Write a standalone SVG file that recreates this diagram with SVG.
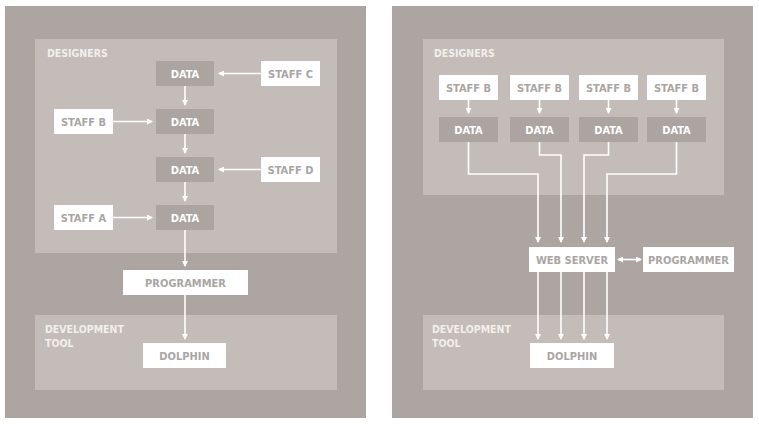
<svg xmlns="http://www.w3.org/2000/svg" width="759" height="424" viewBox="0 0 759 424">
<defs>
<style>
.panel{fill:#aca5a2}
.zone{fill:#c3bcb8}
.data{fill:#aba4a1}
.wbox{fill:#ffffff}
text{font-family:"DejaVu Sans Condensed","DejaVu Sans","Liberation Sans",sans-serif;font-stretch:condensed;font-weight:bold;font-size:11px}
.dt{fill:#ffffff;text-anchor:middle}
.wt{fill:#aaa5a3;text-anchor:middle}
.lbl{fill:#f2efed;font-size:10.5px}
.ln{fill:none;stroke:#ffffff;stroke-width:1.6}
</style>
<marker id="ah" viewBox="0 0 6 6" refX="5" refY="3" markerWidth="6" markerHeight="6" markerUnits="userSpaceOnUse" orient="auto-start-reverse">
<path d="M0,0 L6,3 L0,6 Z" fill="#ffffff"/>
</marker>
</defs>
<rect width="759" height="424" fill="#ffffff"/>
<g id="left-panel">
<rect class="panel" x="5" y="6" width="361" height="412"/>
<g id="l-designers"><rect class="zone" x="35" y="39" width="302" height="214"/><text class="lbl" x="47" y="57">DESIGNERS</text></g>
<g id="l-devtool"><rect class="zone" x="35" y="315" width="302" height="75"/><text class="lbl" x="45" y="333">DEVELOPMENT</text><text class="lbl" x="45" y="347">TOOL</text></g>
</g>
<g id="right-panel">
<rect class="panel" x="392" y="6" width="361" height="412"/>
<g id="r-designers"><rect class="zone" x="423" y="39" width="301" height="156"/><text class="lbl" x="434" y="57">DESIGNERS</text></g>
<g id="r-devtool"><rect class="zone" x="423" y="315" width="301" height="75"/><text class="lbl" x="432" y="333">DEVELOPMENT</text><text class="lbl" x="432" y="347">TOOL</text></g>
</g>
<g id="connectors">
<line class="ln" x1="261" y1="73.5" x2="219" y2="73.5" marker-end="url(#ah)"/>
<line class="ln" x1="113" y1="121.5" x2="152" y2="121.5" marker-end="url(#ah)"/>
<line class="ln" x1="261" y1="169.5" x2="219" y2="169.5" marker-end="url(#ah)"/>
<line class="ln" x1="113" y1="217.5" x2="152" y2="217.5" marker-end="url(#ah)"/>
<line class="ln" x1="185" y1="86" x2="185" y2="105" marker-end="url(#ah)"/>
<line class="ln" x1="185" y1="134" x2="185" y2="153" marker-end="url(#ah)"/>
<line class="ln" x1="185" y1="182" x2="185" y2="201" marker-end="url(#ah)"/>
<line class="ln" x1="185" y1="230" x2="185" y2="266" marker-end="url(#ah)"/>
<line class="ln" x1="185" y1="295" x2="185" y2="339" marker-end="url(#ah)"/>
<line class="ln" x1="468.5" y1="100" x2="468.5" y2="113" marker-end="url(#ah)"/>
<line class="ln" x1="539.5" y1="100" x2="539.5" y2="113" marker-end="url(#ah)"/>
<line class="ln" x1="608.5" y1="100" x2="608.5" y2="113" marker-end="url(#ah)"/>
<line class="ln" x1="676.5" y1="100" x2="676.5" y2="113" marker-end="url(#ah)"/>
<polyline class="ln" points="468.5,142 468.5,174 538,174 538,242" marker-end="url(#ah)"/>
<polyline class="ln" points="539.5,142 539.5,155 561,155 561,242" marker-end="url(#ah)"/>
<polyline class="ln" points="608.5,142 608.5,155 584,155 584,242" marker-end="url(#ah)"/>
<polyline class="ln" points="676.5,142 676.5,174 607,174 607,242" marker-end="url(#ah)"/>
<line class="ln" x1="538" y1="272" x2="538" y2="339" marker-end="url(#ah)"/>
<line class="ln" x1="561" y1="272" x2="561" y2="339" marker-end="url(#ah)"/>
<line class="ln" x1="584" y1="272" x2="584" y2="339" marker-end="url(#ah)"/>
<line class="ln" x1="607" y1="272" x2="607" y2="339" marker-end="url(#ah)"/>
<line class="ln" x1="618" y1="259.5" x2="641" y2="259.5" marker-start="url(#ah)" marker-end="url(#ah)"/>
</g>
<g id="l-data1"><rect class="data" x="156" y="61" width="58" height="25"/><text class="dt" x="185" y="77.5">DATA</text></g>
<g id="l-data2"><rect class="data" x="156" y="109" width="58" height="25"/><text class="dt" x="185" y="125.5">DATA</text></g>
<g id="l-data3"><rect class="data" x="156" y="157" width="58" height="25"/><text class="dt" x="185" y="173.5">DATA</text></g>
<g id="l-data4"><rect class="data" x="156" y="205" width="58" height="25"/><text class="dt" x="185" y="221.5">DATA</text></g>
<g id="l-staffc"><rect class="wbox" x="261" y="61" width="59" height="25"/><text class="wt" x="290.5" y="77.5">STAFF C</text></g>
<g id="l-staffb"><rect class="wbox" x="54" y="109" width="59" height="25"/><text class="wt" x="83.5" y="125.5">STAFF B</text></g>
<g id="l-staffd"><rect class="wbox" x="261" y="157" width="59" height="25"/><text class="wt" x="290.5" y="173.5">STAFF D</text></g>
<g id="l-staffa"><rect class="wbox" x="54" y="205" width="59" height="25"/><text class="wt" x="83.5" y="221.5">STAFF A</text></g>
<g id="l-programmer"><rect class="wbox" x="123" y="270" width="125" height="25"/><text class="wt" x="185.5" y="286.5">PROGRAMMER</text></g>
<g id="l-dolphin"><rect class="wbox" x="143" y="343" width="83" height="25"/><text class="wt" x="184.5" y="359.5">DOLPHIN</text></g>
<g id="r-staff1"><rect class="wbox" x="439" y="75" width="59" height="25"/><text class="wt" x="468.5" y="91.5">STAFF B</text></g>
<g id="r-staff2"><rect class="wbox" x="510" y="75" width="59" height="25"/><text class="wt" x="539.5" y="91.5">STAFF B</text></g>
<g id="r-staff3"><rect class="wbox" x="579" y="75" width="59" height="25"/><text class="wt" x="608.5" y="91.5">STAFF B</text></g>
<g id="r-staff4"><rect class="wbox" x="647" y="75" width="59" height="25"/><text class="wt" x="676.5" y="91.5">STAFF B</text></g>
<g id="r-data1"><rect class="data" x="439" y="117" width="59" height="25"/><text class="dt" x="468.5" y="133.5">DATA</text></g>
<g id="r-data2"><rect class="data" x="510" y="117" width="59" height="25"/><text class="dt" x="539.5" y="133.5">DATA</text></g>
<g id="r-data3"><rect class="data" x="579" y="117" width="59" height="25"/><text class="dt" x="608.5" y="133.5">DATA</text></g>
<g id="r-data4"><rect class="data" x="647" y="117" width="59" height="25"/><text class="dt" x="676.5" y="133.5">DATA</text></g>
<g id="r-webserver"><rect class="wbox" x="529" y="247" width="86" height="25"/><text class="wt" x="572" y="263.5">WEB SERVER</text></g>
<g id="r-programmer"><rect class="wbox" x="643" y="247" width="91" height="25"/><text class="wt" x="688.5" y="263.5">PROGRAMMER</text></g>
<g id="r-dolphin"><rect class="wbox" x="530" y="343" width="84" height="25"/><text class="wt" x="572" y="359.5">DOLPHIN</text></g>
</svg>
